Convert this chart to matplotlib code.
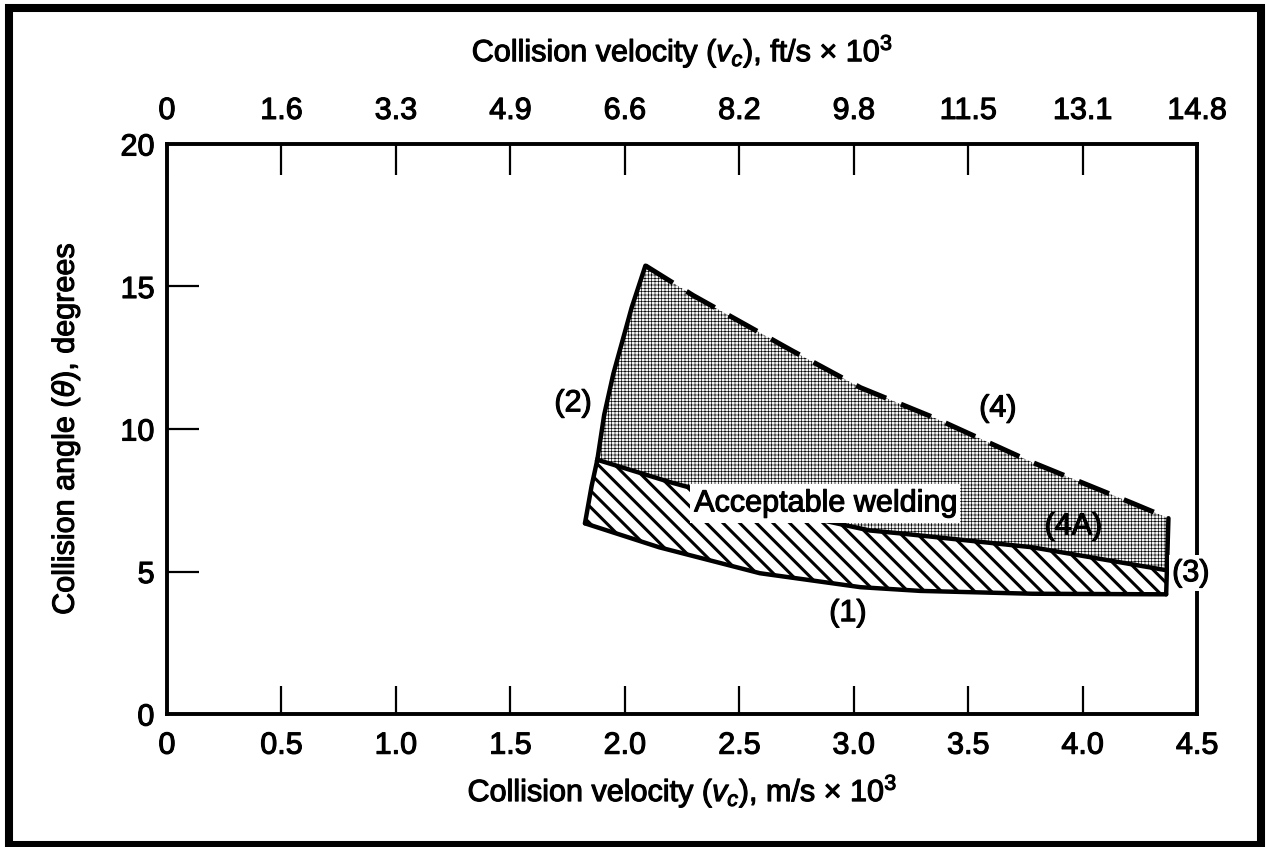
import numpy as np
import matplotlib
matplotlib.use('Agg')
from matplotlib import pyplot as plt
from matplotlib.patches import Rectangle
from matplotlib.text import Text
import matplotlib.patheffects as pe

plt.rcParams['font.family'] = ['Liberation Sans', 'DejaVu Sans']
plt.rcParams['mathtext.fontset'] = 'custom'
plt.rcParams['mathtext.rm'] = 'Liberation Sans'
plt.rcParams['mathtext.it'] = 'Liberation Sans:italic'

# axes ticks
ms_ticks = [0, 0.5, 1.0, 1.5, 2.0, 2.5, 3.0, 3.5, 4.0, 4.5]
ms_labels = ['0', '0.5', '1.0', '1.5', '2.0', '2.5', '3.0', '3.5', '4.0', '4.5']
ft_labels = ['0', '1.6', '3.3', '4.9', '6.6', '8.2', '9.8', '11.5', '13.1', '14.8']
y_ticks = [0, 5, 10, 15, 20]

# boundary (2), left side, bottom to top
b2_x = [1.826, 1.855, 1.88, 1.91, 1.95, 2.03, 2.09]
b2_y = [6.69, 8.0, 8.92, 10.5, 11.94, 14.26, 15.73]
# boundary (4), dashed upper curve
b4_x = [2.09, 2.30, 2.73, 3.03, 3.35, 3.78, 4.22, 4.375]
b4_y = [15.73, 14.68, 12.75, 11.45, 10.40, 8.83, 7.39, 6.87]
# boundary (3), right side
b3_x = [4.375, 4.365]
b3_y = [6.87, 4.20]
# boundary (1), lower curve
b1_x = [1.826, 2.15, 2.59, 3.03, 3.29, 3.78, 4.365]
b1_y = [6.69, 5.85, 4.94, 4.45, 4.32, 4.22, 4.20]
# boundary (4A), between hatched and dotted areas
b4a_x = [1.88, 2.20, 2.60, 3.07, 3.20, 3.78, 4.37]
b4a_y = [8.92, 8.13, 7.25, 6.44, 6.34, 5.85, 5.04]

fig = plt.figure(figsize=(12.67, 8.47), dpi=100)
ax = fig.add_axes([0.1318, 0.157, 0.813, 0.673])

# hatched (acceptable welding) area
hx = b1_x + b4a_x[::-1] + b2_x[1:2]
hy = b1_y + b4a_y[::-1] + b2_y[1:2]
with plt.rc_context({'hatch.linewidth': 2.2}):
    ax.fill(hx, hy, facecolor='white', edgecolor='black', hatch='\\\\', lw=0, zorder=1)

# dotted area
dx = b4a_x + b4_x[::-1] + b2_x[::-1][1:-3]
dy = b4a_y + b4_y[::-1] + b2_y[::-1][1:-3]
with plt.rc_context({'hatch.linewidth': 0.45}):
    ax.fill(dx, dy, facecolor='#f2f2f2', edgecolor='black', hatch='+++++', lw=0, zorder=1)

lw = 3.2
ax.plot(b2_x, b2_y, color='black', lw=lw, solid_capstyle='round', zorder=3)
ax.plot(b1_x, b1_y, color='black', lw=lw, solid_capstyle='round', zorder=3)
ax.plot(b3_x, b3_y, color='black', lw=lw, solid_capstyle='round', zorder=3)
ax.plot(b4a_x, b4a_y, color='black', lw=lw, zorder=3)
ax.plot(b4_x, b4_y, color='black', lw=3.6, dashes=(6.5, 3.2), zorder=3)

fs = 22
ax.text(2.875, 7.39, 'Acceptable welding', fontsize=fs, ha='center', va='center',
        bbox=dict(facecolor='white', edgecolor='none', pad=3), zorder=4)
ax.text(1.774, 10.9, '(2)', fontsize=fs, ha='center', va='center')
ax.text(3.63, 10.72, '(4)', fontsize=fs, ha='center', va='center')
ax.text(3.96, 6.58, '(4A)', fontsize=fs, ha='center', va='center')
ax.text(2.975, 3.54, '(1)', fontsize=fs, ha='center', va='center')
ax.text(4.473, 4.94, '(3)', fontsize=fs, ha='center', va='center',
        bbox=dict(facecolor='white', edgecolor='none', pad=2), zorder=6)

ax.set_xlim(0, 4.5)
ax.set_ylim(0, 20)
ax.set_xticks(ms_ticks)
ax.set_xticklabels(ms_labels)
ax.set_yticks(y_ticks)
ax.tick_params(axis='x', direction='in', length=20, width=1.6, pad=12, labelsize=fs, top=False)
ax.tick_params(axis='y', direction='in', length=23, width=1.6, pad=9, labelsize=fs)
for s in ax.spines.values():
    s.set_linewidth(2.8)
ax.set_xlabel(r'Collision velocity ($v_c$), m/s $\times$ 10$^3$', fontsize=fs, labelpad=8)
ax.set_ylabel(r'Collision angle ($\theta$), degrees', fontsize=fs, labelpad=27)

ax2 = ax.twiny()
ax2.set_xlim(0, 4.5)
ax2.set_xticks(ms_ticks)
ax2.set_xticklabels(ft_labels)
ax2.tick_params(axis='x', direction='in', length=22, width=1.6, pad=13, labelsize=fs)
for s in ax2.spines.values():
    s.set_visible(False)
ax2.set_xlabel(r'Collision velocity ($v_c$), ft/s $\times$ 10$^3$', fontsize=fs, labelpad=25)

fig.add_artist(Rectangle((9 / 1267, 2 / 847), 1252 / 1267, 837 / 847,
                         transform=fig.transFigure, fill=False, lw=5.8, ec='black'))

# heavier strokes, like the printed figure
for t in fig.findobj(Text):
    t.set_path_effects([pe.withStroke(linewidth=0.8, foreground='black')])

plt.savefig('out.png', dpi=100)
